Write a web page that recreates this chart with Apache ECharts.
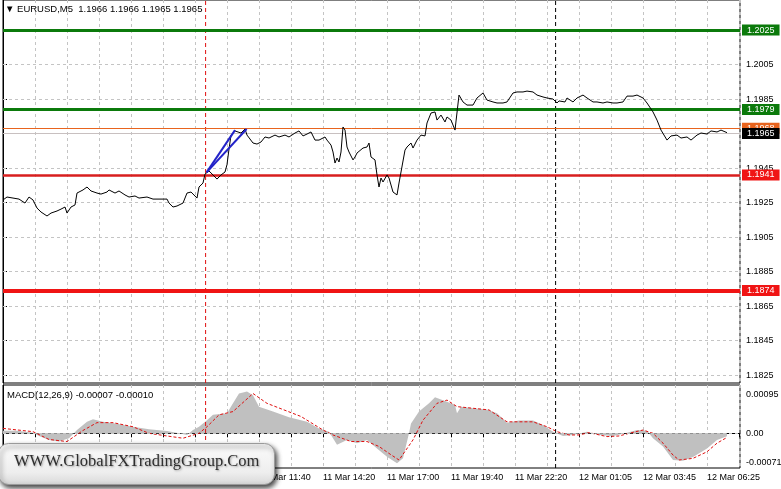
<!DOCTYPE html>
<html><head><meta charset="utf-8">
<script src="https://cdn.jsdelivr.net/npm/echarts@6/dist/echarts.min.js"></script>
<style>html,body{margin:0;padding:0;background:#fff}#c{width:781px;height:489px}</style>
</head><body><div id="c"></div>
<script>
// ---------- data ----------
const symbolName = 'EURUSD,M5';
const lastOHLC = ['1.1966', '1.1966', '1.1965', '1.1965'];
const macdTitle = 'MACD(12,26,9)';
const macdLastValues = ['-0.00007', '-0.00010'];

// [bar index, close]
const closeByBar = [
[0,1.19265],[2,1.19282],[5,1.19276],[8,1.19270],[11,1.19247],[13,1.19282],[15,1.19265],[17,1.19218],[19,1.19195],[22,1.19172],
[24,1.19189],[27,1.19201],[29,1.19212],[31,1.19224],[32,1.19189],[34,1.19224],[36,1.19236],[37,1.19305],[40,1.19323],[42,1.19340],
[44,1.19317],[47,1.19305],[49,1.19299],[52,1.19311],[53,1.19323],[56,1.19305],[58,1.19317],[61,1.19294],[63,1.19282],[66,1.19288],
[68,1.19276],[72,1.19282],[75,1.19270],[78,1.19270],[82,1.19270],[83,1.19247],[85,1.19224],[87,1.19230],[90,1.19247],[92,1.19305],
[94,1.19311],[97,1.19276],[98,1.19340],[100,1.19363],[101,1.19415],[103,1.19433],[105,1.19410],[107,1.19386],[109,1.19410],[111,1.19427],
[112,1.19470],[113,1.19560],[114,1.19640],[116,1.19665],[117,1.19659],[119,1.19653],[121,1.19676],[122,1.19641],[125,1.19595],[127,1.19589],[129,1.19601],
[131,1.19630],[133,1.19624],[136,1.19641],[138,1.19630],[141,1.19641],[143,1.19630],[146,1.19653],[148,1.19665],[150,1.19636],[152,1.19647],
[154,1.19659],[156,1.19612],[158,1.19612],[161,1.19630],[162,1.19612],[164,1.19583],[165,1.19543],[166,1.19479],[167,1.19508],[168,1.19485],
[169,1.19543],[170,1.19688],[171,1.19670],[172,1.19572],[173,1.19543],[175,1.19497],[176,1.19514],[177,1.19537],[178,1.19543],[180,1.19566],
[182,1.19572],[183,1.19595],[184,1.19514],[186,1.19497],[187,1.19410],[188,1.19340],[189,1.19392],[190,1.19369],[192,1.19410],[193,1.19392],
[195,1.19311],[197,1.19294],[198,1.19363],[199,1.19427],[201,1.19554],[202,1.19572],[204,1.19595],[205,1.19566],[207,1.19612],[209,1.19641],
[211,1.19636],[212,1.19711],[214,1.19769],[216,1.19775],[217,1.19728],[219,1.19757],[221,1.19717],[222,1.19746],[224,1.19728],[226,1.19670],
[228,1.19873],[230,1.19833],[232,1.19815],[235,1.19815],[237,1.19856],[240,1.19885],[242,1.19844],[245,1.19833],[247,1.19827],[250,1.19827],
[252,1.19833],[255,1.19885],[257,1.19891],[260,1.19891],[262,1.19896],[265,1.19891],[267,1.19873],[270,1.19862],[272,1.19856],[275,1.19850],
[277,1.19827],[278,1.19839],[281,1.19833],[282,1.19856],[285,1.19833],[287,1.19856],[290,1.19873],[292,1.19856],[295,1.19833],[297,1.19833],
[300,1.19827],[302,1.19833],[305,1.19827],[307,1.19827],[310,1.19833],[312,1.19867],[315,1.19867],[317,1.19873],[320,1.19856],[322,1.19827],
[325,1.19775],[327,1.19728],[329,1.19670],[332,1.19612],[334,1.19636],[337,1.19641],[339,1.19624],[342,1.19630],[344,1.19612],[347,1.19641],
[349,1.19653],[352,1.19647],[354,1.19665],[357,1.19659],[359,1.19670],[362,1.19655]
];

// MACD main (histogram) [bar, value]
const macdMainByBar = [
[0,0.000065],[7,0.000065],[15,0.000016],[18,-0.000065],[23,-0.00016],[28,-0.0002],[33,-0.00012],[37,0.00008],[42,0.00028],[45,0.00034],
[50,0.00028],[57,0.00023],[65,0.00016],[73,0.0001],[82,0.000057],[88,0],[92,-0.00004],[95,0.00008],[98,0.00016],[102,0.00032],
[105,0.00045],[112,0.00049],[115,0.00073],[118,0.00097],[122,0.00102],[125,0.00093],[128,0.00065],[135,0.00053],[143,0.00039],[152,0.00028],
[158,0.00012],[163,0.00004],[167,-0.00028],[172,-0.00016],[177,-0.00024],[182,-0.00016],[187,-0.00037],[192,-0.00057],[197,-0.00073],[200,-0.00061],
[203,0],[204,0.00024],[208,0.00053],[213,0.00073],[216,0.00088],[222,0.00077],[226,0.00069],[227,0.00049],[229,0.00065],[235,0.00061],
[242,0.00058],[247,0.00049],[252,0.00026],[258,0.00031],[265,0.00031],[270,0.0002],[275,0.00004],[280,-0.000065],[285,-0.00004],[292,0.00004],
[298,-0.00004],[305,-0.000065],[312,0.000016],[317,0.00008],[322,0.000065],[325,-0.00012],[330,-0.00032],[335,-0.00065],[340,-0.00067],[345,-0.00058],
[352,-0.00037],[357,-0.00016],[362,-0.00007]
];
// MACD signal [bar, value]
const macdSignalByBar = [
[0,0.00012],[15,0.00004],[23,-0.00015],[32,-0.0002],[40,0.00007],[47,0.00026],[55,0.00026],[65,0.00016],[73,0],[82,-0.000065],
[90,-0.00012],[98,0],[102,0.00016],[108,0.00045],[115,0.00053],[125,0.00097],[132,0.00073],[149,0.00041],[160,0.00008],[165,-0.00004],
[174,-0.0002],[182,-0.0002],[188,-0.00032],[193,-0.00049],[198,-0.00065],[205,-0.00016],[210,0.00032],[217,0.00073],[222,0.00081],[227,0.00065],
[235,0.00061],[243,0.00057],[252,0.00028],[258,0.00028],[265,0.00028],[272,0.00016],[277,0.00004],[283,-0.00004],[288,-0.00004],[293,0.000016],
[302,-0.00008],[308,-0.000065],[315,0.000024],[320,0.00008],[325,0],[330,-0.00024],[335,-0.00053],[338,-0.00065],[345,-0.00061],[352,-0.00045],
[357,-0.00024],[362,-0.0001]
];

const priceTicks = [1.1825,1.1845,1.1865,1.1885,1.1905,1.1925,1.1945,1.1965,1.1985,1.2005,1.2025];
const priceRange = [1.18204, 1.20424];
const macdTicks = [0.00095, 0, -0.00071];
const macdRange = [-0.000845, 0.001177];
const xTickLabels = ['11 Mar 03:40','11 Mar 06:20','11 Mar 09:00','11 Mar 11:40','11 Mar 14:20','11 Mar 17:00',
                     '11 Mar 19:40','11 Mar 22:20','12 Mar 01:05','12 Mar 03:45','12 Mar 06:25'];
const barRange = [0, 368.5];
const barsPerLabel = 32;
const barsPerGridLine = 16;
const greenLevels = [1.2025, 1.1979];
const redLevels = [1.1941, 1.1874];
const askPrice = 1.1968;
const bidPrice = 1.1965;
const redSeparatorBar = 101.3;
const blackSeparatorBar = 276.3;
const trendFrom = [101.8, 1.19425];
const trendTo = [[116, 1.19670], [121.8, 1.19676]];
const watermarkText = 'WWW.GlobalFXTradingGroup.Com';

// ---------- chart ----------
const chart = echarts.init(document.getElementById('c'), null, {renderer: 'canvas'});
const FONT = '"Liberation Sans", Arial, sans-serif';
const gridDash = {color: '#c4c4c4', type: [3, 3], width: 1};
const RED_SEP = '#e01010';
const noLine = {color: 'rgba(0,0,0,0)', width: 0};

function levelLine(v, color, width, bg) {
  return {
    yAxis: v,
    lineStyle: {color: color, width: width, type: 'solid'},
    label: {show: true, position: 'end', distance: 2, formatter: v.toFixed(4),
      color: '#fff', backgroundColor: bg, padding: [1, 5, 0, 5], fontSize: 9, fontFamily: FONT, lineHeight: 10}
  };
}
function scaleMark(v, digits, line) {
  return {yAxis: v, lineStyle: line,
    label: {show: true, position: 'end', distance: 6, formatter: v.toFixed(digits), color: '#000', fontSize: 9, fontFamily: FONT}};
}
function vSeparator(idx, bar, range, color, z) {
  return {type: 'line', xAxisIndex: idx, yAxisIndex: idx, z: z, silent: true,
    data: [[bar, range[0]], [bar, range[1]]],
    showSymbol: false, symbol: 'none',
    lineStyle: {color: color, type: [4, 3], width: 1}};
}

const option = {
  animation: false,
  backgroundColor: '#fff',
  grid: [
    {left: 3, right: 41, top: 0, height: 383, show: true, borderColor: '#000', borderWidth: 1, backgroundColor: '#fff'},
    {left: 3, right: 41, top: 385, height: 83, show: true, borderColor: '#000', borderWidth: 1, backgroundColor: '#fff'}
  ],
  xAxis: [
    {type: 'value', gridIndex: 0, min: barRange[0], max: barRange[1], interval: barsPerGridLine,
      axisLine: {show: false}, axisTick: {show: false}, axisLabel: {show: false},
      splitLine: {show: true, lineStyle: gridDash}},
    {type: 'value', gridIndex: 1, min: barRange[0], max: barRange[1], interval: barsPerGridLine,
      axisLine: {show: true, lineStyle: {color: '#000'}},
      axisTick: {show: true, length: 4, lineStyle: {color: '#000'}},
      axisLabel: {show: true, color: '#000', fontSize: 9, fontFamily: FONT, align: 'left', margin: 5,
        showMinLabel: true, showMaxLabel: false,
        formatter: function (v) {
          if (v > 0 && v % barsPerLabel === 0) { return xTickLabels[v / barsPerLabel - 1] || ''; }
          return '';
        }},
      splitLine: {show: true, lineStyle: gridDash}}
  ],
  yAxis: [
    {type: 'value', gridIndex: 0, position: 'right', min: priceRange[0], max: priceRange[1], scale: true,
      axisLine: {show: true, lineStyle: {color: '#000'}},
      axisTick: {show: true, length: 4, customValues: priceTicks, lineStyle: {color: '#000'}},
      axisLabel: {show: true, customValues: priceTicks, color: '#000', fontSize: 9, fontFamily: FONT, margin: 6,
        formatter: function (v) { return v.toFixed(4); }},
      splitLine: {show: false}},
    {type: 'value', gridIndex: 1, position: 'right', min: macdRange[0], max: macdRange[1],
      axisLine: {show: true, lineStyle: {color: '#000'}},
      axisTick: {show: false}, axisLabel: {show: false}, splitLine: {show: false}}
  ],
  graphic: [
    {type: 'text', left: 5, top: 4, z: 50,
      style: {text: '\u25BC ' + symbolName + '  ' + lastOHLC.join(' '), font: '9.5px ' + FONT, fill: '#000'}},
    {type: 'text', left: 7, top: 390, z: 50,
      style: {text: macdTitle + ' ' + macdLastValues.join(' '), font: '9.5px ' + FONT, fill: '#000'}},
    {type: 'rect', left: -2, top: 443, z: 100,
      shape: {width: 276, height: 41, r: 10},
      style: {fill: new echarts.graphic.LinearGradient(0, 0, 0, 1, [
          {offset: 0, color: '#fbfbfb'}, {offset: 0.7, color: '#eeeeee'}, {offset: 1, color: '#d8d8d8'}]),
        stroke: '#9a9a9a', lineWidth: 1,
        shadowBlur: 5, shadowOffsetX: 2, shadowOffsetY: 3, shadowColor: 'rgba(0,0,0,0.75)'}},
    {type: 'text', left: 14, top: 453, z: 101,
      style: {text: watermarkText, font: '16.5px "Liberation Serif", "Times New Roman", serif', fill: '#2e2e2e',
        textShadowColor: 'rgba(0,0,0,0.35)', textShadowBlur: 2, textShadowOffsetX: 1, textShadowOffsetY: 1}}
  ],
  series: [
    // price grid lines
    {type: 'line', xAxisIndex: 0, yAxisIndex: 0, data: [], z: 1, silent: true,
      markLine: {silent: true, symbol: 'none', animation: false, precision: 8,
        lineStyle: gridDash, label: {show: false},
        data: priceTicks.map(v => ({yAxis: v}))}},
    // separators
    vSeparator(0, redSeparatorBar, priceRange, RED_SEP, 2),
    vSeparator(0, blackSeparatorBar, priceRange, '#000', 2),
    vSeparator(1, redSeparatorBar, macdRange, RED_SEP, 5),
    vSeparator(1, blackSeparatorBar, macdRange, '#000', 5),
    // levels
    {type: 'line', xAxisIndex: 0, yAxisIndex: 0, data: [], z: 3, silent: true,
      markLine: {silent: true, symbol: 'none', animation: false, precision: 8,
        data: [
          levelLine(greenLevels[0], '#0b7a0b', 3, '#0b7a0b'),
          levelLine(greenLevels[1], '#0b7a0b', 3, '#0b7a0b'),
          levelLine(redLevels[0], '#d81e1e', 2.5, '#f01414'),
          levelLine(redLevels[1], '#f01414', 4, '#f01414'),
          levelLine(askPrice, '#e8641e', 1, '#e8641e'),
          levelLine(bidPrice, '#c8c0c0', 1, '#000')
        ]}},
    // price
    {type: 'line', name: 'EURUSD', xAxisIndex: 0, yAxisIndex: 0, data: closeByBar, z: 5,
      showSymbol: false, symbol: 'none', lineStyle: {color: '#000', width: 1}},
    // trend lines
    {type: 'line', xAxisIndex: 0, yAxisIndex: 0, data: [trendFrom, trendTo[0]], z: 6,
      showSymbol: false, symbol: 'none', lineStyle: {color: '#2323c8', width: 2}},
    {type: 'line', xAxisIndex: 0, yAxisIndex: 0, data: [trendFrom, trendTo[1]], z: 6,
      showSymbol: false, symbol: 'none', lineStyle: {color: '#2323c8', width: 2}},
    // MACD histogram
    {type: 'line', name: 'MACD', xAxisIndex: 1, yAxisIndex: 1, data: macdMainByBar, z: 3,
      showSymbol: false, symbol: 'none', lineStyle: {width: 0, color: '#c0c0c0'},
      areaStyle: {color: '#c0c0c0', opacity: 1}},
    // MACD signal
    {type: 'line', name: 'Signal', xAxisIndex: 1, yAxisIndex: 1, data: macdSignalByBar, z: 4,
      showSymbol: false, symbol: 'none', lineStyle: {color: '#e01010', width: 1, type: [3, 2]}},
    // MACD scale marks
    {type: 'line', xAxisIndex: 1, yAxisIndex: 1, data: [], z: 2, silent: true,
      markLine: {silent: true, symbol: 'none', animation: false, precision: 8,
        data: [
          scaleMark(macdTicks[0], 5, noLine),
          scaleMark(macdTicks[1], 2, gridDash),
          scaleMark(macdTicks[2], 5, noLine)
        ]}}
  ]
};
chart.setOption(option);
</script>
</body></html>
